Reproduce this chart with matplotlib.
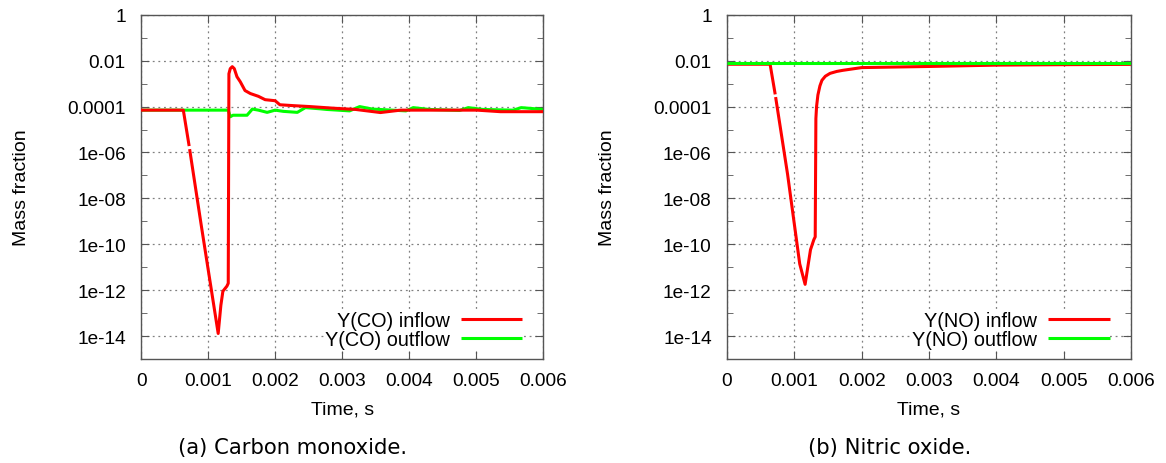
import numpy as np
import matplotlib
matplotlib.use("Agg")
import matplotlib.pyplot as plt
from matplotlib.ticker import FixedLocator, FixedFormatter

nan = np.nan

# ---- Y(CO) ----
co_in_t = [0, 0.0003, 0.00063, 0.000717, nan, 0.000724, 0.0009, 0.00115, 0.00119,
           0.00122, 0.00128, 0.0013, 0.00131, 0.00133, 0.00136, 0.00139, 0.00143,
           0.00148, 0.00155, 0.00163, 0.00175, 0.00185, 0.002, 0.00207, 0.00227,
           0.00252, 0.00287, 0.0032, 0.00357, 0.00387, 0.00436, 0.00501, 0.00536,
           0.006]
co_in_y = [7e-5, 7e-5, 7e-5, 1.9e-6, nan, 1.4e-6, 6e-10, 1.3e-14, 2.2e-13,
           9e-13, 1.5e-12, 2e-12, 2.7e-3, 4.5e-3, 5.5e-3, 4.5e-3, 2e-3,
           1.2e-3, 5e-4, 3.7e-4, 2.8e-4, 2.0e-4, 1.8e-4, 1.2e-4, 1.1e-4,
           1e-4, 8.5e-5, 7.5e-5, 5.5e-5, 7e-5, 7e-5, 7e-5, 6e-5,
           6e-5]

co_out_t = [0, 0.0013, 0.00133, 0.00137, 0.00158, 0.00166, 0.00175, 0.00188,
            0.002, 0.00212, 0.00233, 0.00245, 0.00267, 0.00277, 0.00311, 0.00326,
            0.00345, 0.00395, 0.00406, 0.0043, 0.00475, 0.00488, 0.0051, 0.00555,
            0.00567, 0.006]
co_out_y = [7e-5, 7e-5, 3.6e-5, 4.2e-5, 4.2e-5, 7.8e-5, 7e-5, 5.6e-5,
            7e-5, 6.2e-5, 5.6e-5, 9e-5, 8e-5, 7.5e-5, 6.5e-5, 1e-4,
            7.8e-5, 6.5e-5, 9e-5, 7.5e-5, 6.8e-5, 9e-5, 7.5e-5, 7e-5,
            9e-5, 7.5e-5]

# ---- Y(NO) ----
no_in_t = [0, 0.0003, 0.00064, 0.000716, nan, 0.000722, 0.0009, 0.00108, 0.00116,
           0.00124, 0.00129, 0.00131, 0.00132, 0.00133, 0.00135, 0.00138, 0.00141,
           0.00146, 0.00153, 0.00163, 0.00172, 0.002, 0.003, 0.004, 0.005, 0.006]
no_in_y = [7e-3, 7e-3, 7e-3, 3.4e-4, nan, 2.6e-4, 1.1e-7, 1.4e-11, 1.8e-12,
           5.8e-11, 1.6e-10, 2.1e-10, 3e-5, 1e-4, 3.2e-4, 8e-4, 1.4e-3,
           2.1e-3, 2.8e-3, 3.4e-3, 3.8e-3, 5e-3, 5.6e-3, 6.4e-3, 6.7e-3, 6.9e-3]

no_out_t = [0, 0.006]
no_out_y = [7.9e-3, 7.9e-3]

y_ticks = [1, 1e-2, 1e-4, 1e-6, 1e-8, 1e-10, 1e-12, 1e-14]
y_tick_labels = ["1", "0.01", "0.0001", "1e-06", "1e-08", "1e-10", "1e-12", "1e-14"]
y_minor = [1e-1, 1e-3, 1e-5, 1e-7, 1e-9, 1e-11, 1e-13]
x_ticks = [0, 0.001, 0.002, 0.003, 0.004, 0.005, 0.006]
x_tick_labels = ["0", "0.001", "0.002", "0.003", "0.004", "0.005", "0.006"]

RED = "#ff0000"
GREEN = "#00ff00"
TICK_FONT = "Liberation Sans"
FS = 13.7

fig = plt.figure(figsize=(11.66, 4.64), dpi=100)


def setup_axes(ax):
    ax.set_yscale("log")
    ax.set_xlim(0, 0.006)
    ax.set_ylim(1e-15, 1)
    ax.yaxis.set_major_locator(FixedLocator(y_ticks))
    ax.yaxis.set_major_formatter(FixedFormatter(y_tick_labels))
    ax.yaxis.set_minor_locator(FixedLocator(y_minor))
    ax.yaxis.set_minor_formatter(FixedFormatter([""] * len(y_minor)))
    ax.xaxis.set_major_locator(FixedLocator(x_ticks))
    ax.xaxis.set_major_formatter(FixedFormatter(x_tick_labels))
    ax.tick_params(which="both", direction="in", top=True, right=True,
                   color="#555555", labelsize=FS)
    ax.tick_params(axis="y", pad=11)
    ax.tick_params(axis="x", pad=9)
    ax.tick_params(which="major", length=6)
    ax.tick_params(which="minor", length=4)
    for lab in ax.get_xticklabels() + ax.get_yticklabels():
        lab.set_fontfamily(TICK_FONT)
    for s in ax.spines.values():
        s.set_color("#555555")
        s.set_linewidth(1.0)
    ax.grid(True, which="major", color="#808080", linestyle=(0, (1.5, 3)), linewidth=0.9)
    ax.set_axisbelow(True)
    ax.set_ylabel("Mass fraction", fontfamily=TICK_FONT, fontsize=14)
    ax.set_xlabel("Time, s", fontfamily=TICK_FONT, fontsize=14)
    ax.yaxis.set_label_coords(-0.275, 0.5)
    ax.xaxis.set_label_coords(0.5, -0.12)


panels = [
    ([0.121, 0.224, 0.345, 0.742], co_in_t, co_in_y, co_out_t, co_out_y,
     "Y(CO) inflow", "Y(CO) outflow", "(a) Carbon monoxide.", 0.251, True),
    ([0.6235, 0.224, 0.3465, 0.742], no_in_t, no_in_y, no_out_t, no_out_y,
     "Y(NO) inflow", "Y(NO) outflow", "(b) Nitric oxide.", 0.763, False),
]

for rect, t_in, y_in, t_out, y_out, lab_in, lab_out, caption, cap_x, in_on_top in panels:
    ax = fig.add_axes(rect)
    setup_axes(ax)
    z_in, z_out = (3, 2) if in_on_top else (2, 3)
    h_in, = ax.plot(t_in, y_in, color=RED, lw=2.2, zorder=z_in, label=lab_in,
                    solid_capstyle="butt")
    h_out, = ax.plot(t_out, y_out, color=GREEN, lw=2.2, zorder=z_out, label=lab_out,
                     solid_capstyle="butt")
    leg = ax.legend(handles=[h_in, h_out], loc="lower right",
                    bbox_to_anchor=(0.972, 0.0), markerfirst=False,
                    frameon=True, fancybox=False, framealpha=1.0,
                    handlelength=3.1, handletextpad=0.55, labelspacing=0.03,
                    borderpad=0.0, prop={"family": TICK_FONT, "size": 14.3})
    leg.get_frame().set_edgecolor("none")
    leg.set_zorder(2.45)
    leg._legend_box.align = "right"
    fig.text(cap_x, 0.012, caption, ha="center", va="bottom",
             fontfamily="DejaVu Sans", fontsize=15.2)

fig.savefig("out.png", dpi=100)
